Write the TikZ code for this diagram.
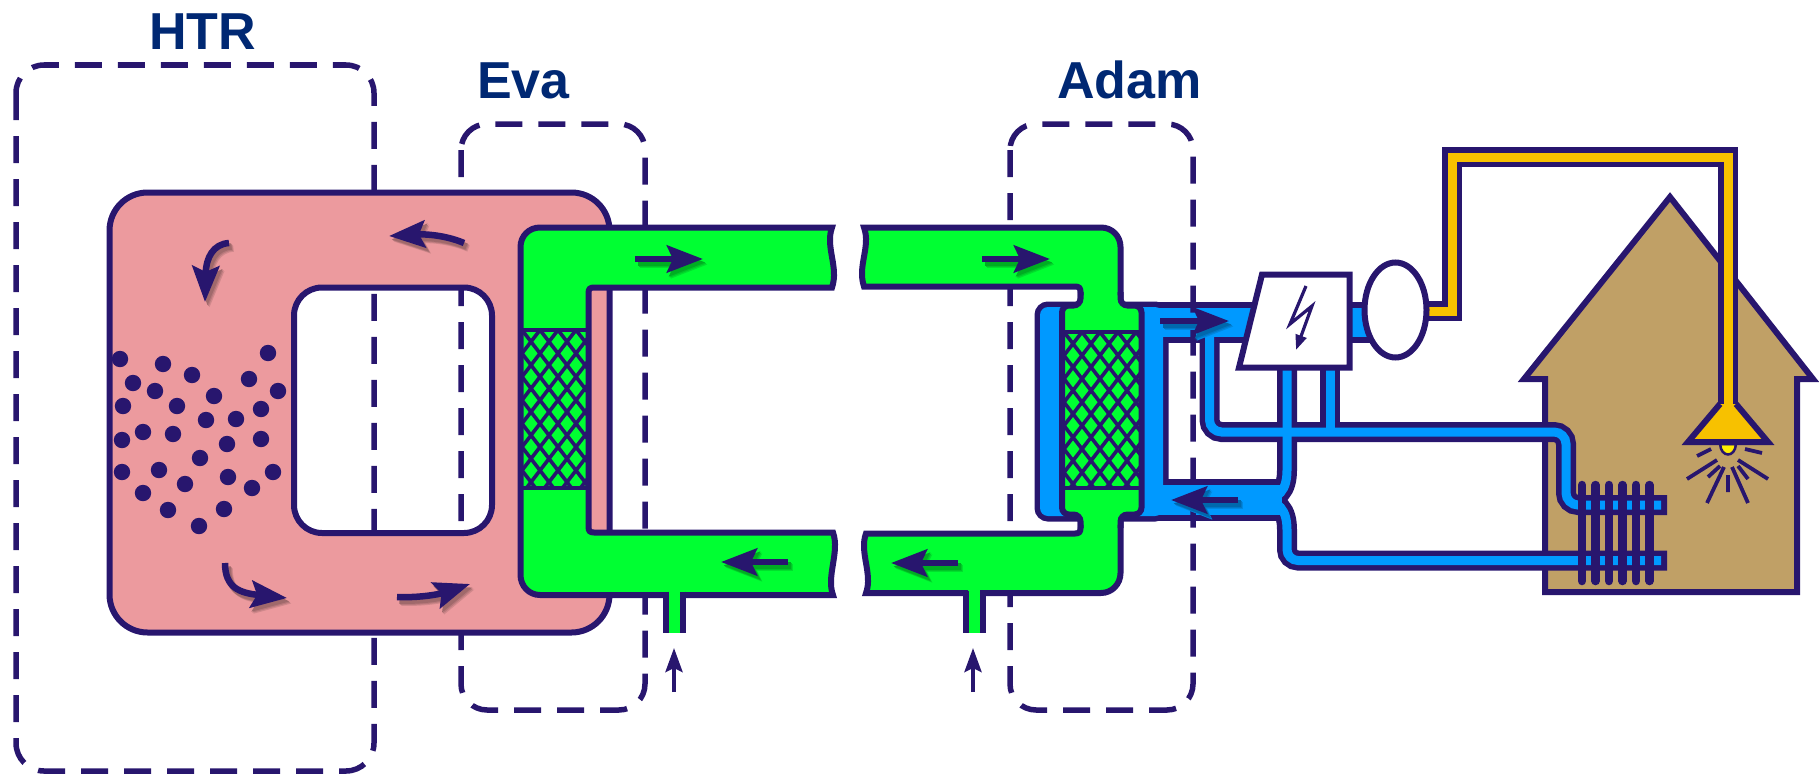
\documentclass[tikz,border=0pt]{standalone}
\usepackage{fontspec}
\setmainfont{Liberation Sans}
\usetikzlibrary{arrows.meta}
\definecolor{navy}{RGB}{40,22,110}
\definecolor{labelblue}{RGB}{0,40,115}
\definecolor{vessel}{RGB}{236,154,158}
\definecolor{gas}{RGB}{0,255,50}
\definecolor{water}{RGB}{0,153,255}
\definecolor{housefill}{RGB}{192,160,102}
\definecolor{wire}{RGB}{247,193,0}
\definecolor{bulb}{RGB}{255,238,0}
% flow arrow with a soft offset shadow in darker tones of the background
\newcommand\pipearrow[2]{%
  \draw[flow, color=#1!88!black, shift={(4.5,5.5)}] #2;
  \draw[flow, color=#1!78!black, shift={(3.5,4.5)}] #2;
  \draw[flow, color=#1!68!black, shift={(2.5,3.5)}] #2;
  \draw[flow] #2;}
% diamond wire mesh of a heat exchanger: corners x1,y1,x2,y2
\newcommand\meshfill[4]{%
  \begin{scope}
    \clip (#1,#2) rectangle (#3,#4);
    \foreach \k in {-10,...,10}{
      \draw[meshline] ({#1+\k*18},#2) -- ++(130,169);
      \draw[meshline] ({#1+\k*18},#2) -- ++(-130,169);
    }
  \end{scope}
  \draw[meshline] (#1,#2) -- (#3,#2) (#1,#4) -- (#3,#4);}

\begin{document}
\begin{tikzpicture}[x=1pt,y=-1pt, line join=miter,
  navyline/.style={draw=navy, line width=6pt},
  boundary/.style={draw=navy, line width=5.5pt, dash pattern=on 27pt off 16pt, rounded corners=#1},
  boundary/.default=26pt,
  flow/.style={navy, line width=6.5pt, -{Stealth[length=36pt,width=27pt,inset=6pt]}},
  inlet/.style={navy, line width=4pt, -{Stealth[length=24pt,width=17pt,inset=4pt]}},
  tag/.style={font=\fontsize{52}{60}\selectfont\bfseries, text=labelblue, anchor=base, inner sep=0pt},
  meshline/.style={navy, line width=3.6pt},
  casing/.style={navy, line width=20pt},
  core/.style={water, line width=9pt},
  ray/.style={navy, line width=3.8pt},
  fin/.style={navy, line width=8.5pt, line cap=round},
]
\useasboundingbox (0,0) rectangle (1819,776);

% ---------- system boundaries (behind the plant) ----------
\draw[boundary=28pt] (16,65) rectangle (374,771);
\draw[boundary] (461,124) rectangle (645,710);

% ---------- reactor vessel with open core ----------
\filldraw[fill=vessel, navyline, even odd rule]
  [rounded corners=38pt] (109.5,192.5) rectangle (609.5,632.5)
  [rounded corners=28pt] (294,287.5) rectangle (492,533);

% pebble bed
\foreach \p in {(120,359),(163,364),(268,353),(133,383),(192,375),(155,391),
  (249,379),(278,391),(123,406),(177,406),(214,396),(261,409),(206,420),
  (236,419),(122,440),(143,432),(173,434),(227,444),(261,439),(200,458),
  (122,472),(159,470),(185,484),(228,477),(273,472),(143,493),(252,488),
  (168,510),(224,509),(199,526)}
  \fill[navy] \p circle (8.2pt);

% helium circulation in the vessel
\pipearrow{vessel}{(464,243) .. controls (445,235) and (425,234) .. (389,236)}
\pipearrow{vessel}{(229,243) .. controls (213,244) and (206,258) .. (205,302)}
\pipearrow{vessel}{(225,563) .. controls (225,588) and (240,593) .. (287,598)}
\pipearrow{vessel}{(397,597) .. controls (420,598) and (440,594) .. (470,584)}

% ---------- Eva: gas loop leaving the reactor ----------
\filldraw[fill=gas, navyline]
  (832,227.5) -- (540,227.5) .. controls (529,227.5) and (520.5,236) .. (520.5,247)
  -- (520.5,575) .. controls (520.5,586) and (529,595) .. (540,595)
  -- (833,595) .. controls (826,576) and (840,552) .. (833,532.5)
  -- (594,532.5) .. controls (590,532.5) and (588.5,531) .. (588.5,527)
  -- (588.5,293) .. controls (588.5,289) and (590,287.5) .. (594,287.5)
  -- (832,287.5) .. controls (839,267) and (825,247) .. (832,227.5) -- cycle;
\meshfill{522}{330}{586}{488}
% feed stub
\fill[gas] (668,588) rectangle (680,633);
\draw[navyline] (665.5,591.5) -- (665.5,633) (682.5,591.5) -- (682.5,633);
\pipearrow{gas}{(635,259) -- (703,259)}
\pipearrow{gas}{(788,562) -- (721,562)}

% ---------- house ----------
\filldraw[fill=housefill, navyline]
  (1670,197) -- (1813,379) -- (1797,379) -- (1797,592) -- (1545,592)
  -- (1545,379) -- (1524,379) -- cycle;

% power line from the generator to the lamp
\draw[navy, line width=20pt] (1415,311) -- (1452,311) -- (1452,157) -- (1728,157) -- (1728,406);
\draw[wire, line width=9pt]  (1415,311) -- (1452,311) -- (1452,157) -- (1728,157) -- (1728,406);
% lamp
\filldraw[fill=bulb, draw=navy, line width=2.5pt]
  (1720,444) .. controls (1721,458) and (1735,458) .. (1736,444) -- cycle;
\fill[wire] (1720,404) -- (1736,404) -- (1768,442) -- (1688,442) -- cycle;
\draw[navyline] (1720,404) -- (1688,442) -- (1768,442) -- (1736,404);
\draw[ray] (1697,456) -- (1711,449) (1745,449) -- (1762,453)
  (1687,479) -- (1717,460) (1708,477) -- (1720,466)
  (1707,503) -- (1724,467) (1728,475) -- (1728,492)
  (1732,467) -- (1748,503) (1738,466) -- (1748,479)
  (1738,460) -- (1768,479);

% ---------- Adam: water / steam circuit ----------
% casings
\draw[navy, line width=11pt, rounded corners=8pt] (1040,307) rectangle (1163,516);
\draw[navy, line width=41pt] (1100,322) -- (1385,322);
\draw[navy, line width=42pt] (1100,500) -- (1280,500);
\draw[casing] (1287,360) -- (1287,470) .. controls (1287,490) and (1279,500) .. (1260,500);
\draw[casing] (1260,500) .. controls (1279,500) and (1287,510) .. (1287,530)
  [rounded corners=11pt] -- (1287,560.5) -- (1667,560.5);
\draw[casing, rounded corners=12pt] (1209.5,330) -- (1209.5,432) -- (1566,432) -- (1566,505) -- (1667,505);
\draw[casing] (1330,360) -- (1330,432);
% water
\fill[water, rounded corners=8pt] (1040,307) rectangle (1163,516);
\draw[water, line width=29pt] (1100,322) -- (1385,322);
\draw[water, line width=30pt] (1100,500) -- (1282,500);
\draw[core] (1287,360) -- (1287,470) .. controls (1287,490) and (1279,500) .. (1260,500);
\draw[core] (1260,500) .. controls (1279,500) and (1287,510) .. (1287,530)
  [rounded corners=11pt] -- (1287,560.5) -- (1661,560.5);
\draw[core, rounded corners=12pt] (1209.5,325) -- (1209.5,432) -- (1566,432) -- (1566,505) -- (1661,505);
\draw[core] (1330,360) -- (1330,432);

% radiator fins
\foreach \k in {0,...,5}
  \draw[fin] ({1582+\k*13.5},485) -- ({1582+\k*13.5},581);

% turbine and generator
\filldraw[fill=white, navyline] (1262,274.5) -- (1349.5,274.5) -- (1349.5,367.5) -- (1239,367.5) -- cycle;
\draw[navy, line width=3.2pt, -{Triangle[length=15pt,width=11pt]}]
  (1306,286) -- (1290,324) -- (1312,306) -- (1296,350);
\filldraw[fill=white, navyline] (1395.5,310) ellipse (31pt and 47.5pt);

\draw[boundary] (1010,124) rectangle (1193,710);

% green loop on the Adam side
\filldraw[fill=gas, navyline]
  (864,227.5) -- (1101,227.5) .. controls (1112,227.5) and (1120.5,236) .. (1120.5,247)
  -- (1120.5,573) .. controls (1120.5,584) and (1112,593) .. (1101,593)
  -- (866,593) .. controls (873,574) and (859,552) .. (866,533.5)
  -- (1075,533.5) .. controls (1079,533.5) and (1080.5,532) .. (1080.5,528)
  -- (1080.5,292) .. controls (1080.5,288) and (1079,286.5) .. (1075,286.5)
  -- (864,286.5) .. controls (857,266) and (871,247) .. (864,227.5) -- cycle;
% heat exchanger capsule
\fill[gas, rounded corners=7pt] (1080.5,294) -- (1080.5,305.5) -- (1062,305.5) -- (1062,514.5)
  -- (1080.5,514.5) -- (1080.5,526) -- (1120.5,526) -- (1120.5,514.5) -- (1141.5,514.5)
  -- (1141.5,305.5) -- (1120.5,305.5) -- (1120.5,294) -- cycle;
\draw[navyline, rounded corners=7pt] (1080.5,292) -- (1080.5,305.5) -- (1062,305.5)
  -- (1062,514.5) -- (1080.5,514.5) -- (1080.5,528);
\draw[navyline, rounded corners=7pt] (1120.5,292) -- (1120.5,305.5) -- (1141.5,305.5)
  -- (1141.5,514.5) -- (1120.5,514.5) -- (1120.5,528);
\meshfill{1064}{332}{1140}{488}
% feed stub
\fill[gas] (968,587) rectangle (980,633);
\draw[navyline] (965.5,590.5) -- (965.5,633) (982.5,590.5) -- (982.5,633);
\pipearrow{gas}{(982,259) -- (1050,259)}
\pipearrow{gas}{(958,563) -- (891,563)}
\pipearrow{water}{(1160,321) -- (1229,321)}
\pipearrow{water}{(1238,500) -- (1171,500)}

% feed arrows
\draw[inlet] (674,692) -- (674,648);
\draw[inlet] (973,692) -- (973,648);

% ---------- labels ----------
\node[tag] (htrlabel) at (202.5,50) {HTR};
\node[tag] (evalabel) at (523.5,98) {Eva};
\node[tag] (adamlabel) at (1129.5,98) {Adam};
\end{tikzpicture}
\end{document}
